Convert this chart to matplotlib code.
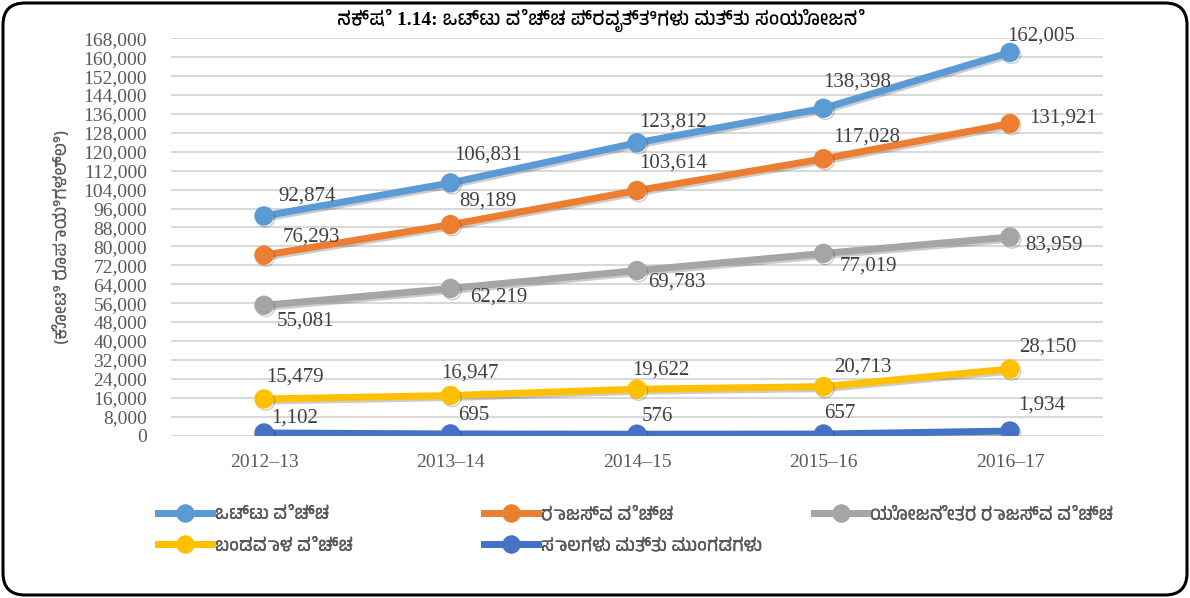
import matplotlib
matplotlib.use("Agg")
import matplotlib.pyplot as plt
import matplotlib.patheffects as pe
from matplotlib import font_manager, ft2font
from matplotlib.lines import Line2D
from matplotlib.patches import FancyBboxPatch

# data
years = ['2012–13', '2013–14', '2014–15', '2015–16', '2016–17']
total_exp = [92874, 106831, 123812, 138398, 162005]
revenue_exp = [76293, 89189, 103614, 117028, 131921]
nonplan_rev_exp = [55081, 62219, 69783, 77019, 83959]
capital_exp = [15479, 16947, 19622, 20713, 28150]
loans_adv = [1102, 695, 576, 657, 1934]

series_names = ['ಒಟ್ಟು ವೆಚ್ಚ', 'ರಾಜಸ್ವ ವೆಚ್ಚ', 'ಯೋಜನೇತರ ರಾಜಸ್ವ ವೆಚ್ಚ',
                'ಬಂಡವಾಳ ವೆಚ್ಚ', 'ಸಾಲಗಳು ಮತ್ತು ಮುಂಗಡಗಳು']
title_text = 'ನಕ್ಷೆ 1.14: ಒಟ್ಟು ವೆಚ್ಚ ಪ್ರವೃತ್ತಿಗಳು ಮತ್ತು ಸಂಯೋಜನೆ'
ylabel_text = '(ಕೋಟಿ ರೂಪಾಯಿಗಳಲ್ಲಿ)'

colors = ['#5B9BD5', '#ED7D31', '#A5A5A5', '#FFC000', '#4472C4']

# label offsets in points (dx, dy) per point
label_offsets = [
    [(31, 14), (27, 20), (26, 15), (24, 19), (22, 12)],
    [(34, 13), (27, 17), (26, 20), (31, 16), (38, 4)],
    [(30, -11), (35, -6), (29, -8), (32, -9), (32, -6)],
    [(22, 16), (14, 16), (17, 14), (28, 14), (27, 16)],
    [(22, 11), (17, 13), (15, 13), (12, 15), (23, 19)],
]


def find_kannada_font():
    found = []
    for f in font_manager.fontManager.ttflist:
        try:
            cmap = ft2font.FT2Font(f.fname).get_charmap()
        except Exception:
            continue
        if 0x0C95 in cmap and 0x0CCD in cmap:
            found.append(f.name)
    if not found:
        return None
    # prefer a proportional font made for Kannada
    found.sort(key=lambda n: ('Kannada' not in n, 'Mono' in n, 'Serif' in n, n))
    return found[0]


kn = find_kannada_font()
kn_family = [kn, 'DejaVu Sans'] if kn else ['DejaVu Sans']
serif = 'Liberation Serif'

fig = plt.figure(figsize=(11.9, 5.98), dpi=100)
ax = fig.add_axes([0.1435, 0.2716, 0.7836, 0.6644])

all_series = [total_exp, revenue_exp, nonplan_rev_exp, capital_exp, loans_adv]
x = list(range(len(years)))
shadow = [pe.SimpleLineShadow(offset=(1.2, -1.5), alpha=0.2, shadow_color='black'), pe.Normal()]
handles = []
for i, vals in enumerate(all_series):
    ax.plot(x, vals, color=colors[i], lw=5, marker='o', ms=13,
            mec=colors[i], zorder=3 + (5 - i) * 0.1, path_effects=shadow,
            solid_capstyle='round')
    handles.append(Line2D([], [], color=colors[i], lw=5, marker='o', ms=12,
                          mec=colors[i]))
    for j, v in enumerate(vals):
        dx, dy = label_offsets[i][j]
        ax.annotate(f'{v:,}', (j, v), xytext=(dx, dy), textcoords='offset points',
                    ha='center', va='center', fontsize=15, family=serif,
                    color='#404040', zorder=6)

ax.set_xlim(-0.5, 4.5)
ax.set_ylim(0, 168000)
ax.set_yticks(range(0, 168001, 8000))
ax.set_yticklabels([f'{t:,}' for t in range(0, 168001, 8000)])
ax.set_xticks(x)
ax.set_xticklabels(years)
for lab in ax.get_xticklabels() + ax.get_yticklabels():
    lab.set_fontfamily(serif)
    lab.set_fontsize(14)
    lab.set_color('#595959')
ax.tick_params(axis='y', length=0, pad=17)
ax.tick_params(axis='x', length=0, pad=13)
ax.grid(axis='y', color='#D9D9D9', lw=1.5)
ax.set_axisbelow(True)
for s in ax.spines.values():
    s.set_visible(False)

ax.set_ylabel(ylabel_text, family=kn_family, fontsize=13, color='#595959', labelpad=10)

fig.text(0.505, 0.966, title_text, ha='center', va='center', fontsize=14,
         fontweight='bold', family=[serif] + kn_family, color='black')

# legend: three columns, row-major order
col_x = [0.119, 0.393, 0.67]
cols = [[0, 3], [1, 4], [2]]
for cx, idx in zip(col_x, cols):
    leg = fig.legend([handles[k] for k in idx], [series_names[k] for k in idx],
                     loc='upper left', bbox_to_anchor=(cx, 0.18),
                     frameon=False, handlelength=3.0, handletextpad=0.15,
                     labelspacing=0.85, prop={'family': kn_family, 'size': 13},
                     labelcolor='#595959')
    fig.add_artist(leg)

border = FancyBboxPatch((0.03, 0.03), 11.84, 5.92,
                        boxstyle='round,pad=0,rounding_size=0.22',
                        transform=fig.dpi_scale_trans, fill=False,
                        edgecolor='black', lw=2.2)
fig.add_artist(border)

fig.savefig('out.png', dpi=100)
